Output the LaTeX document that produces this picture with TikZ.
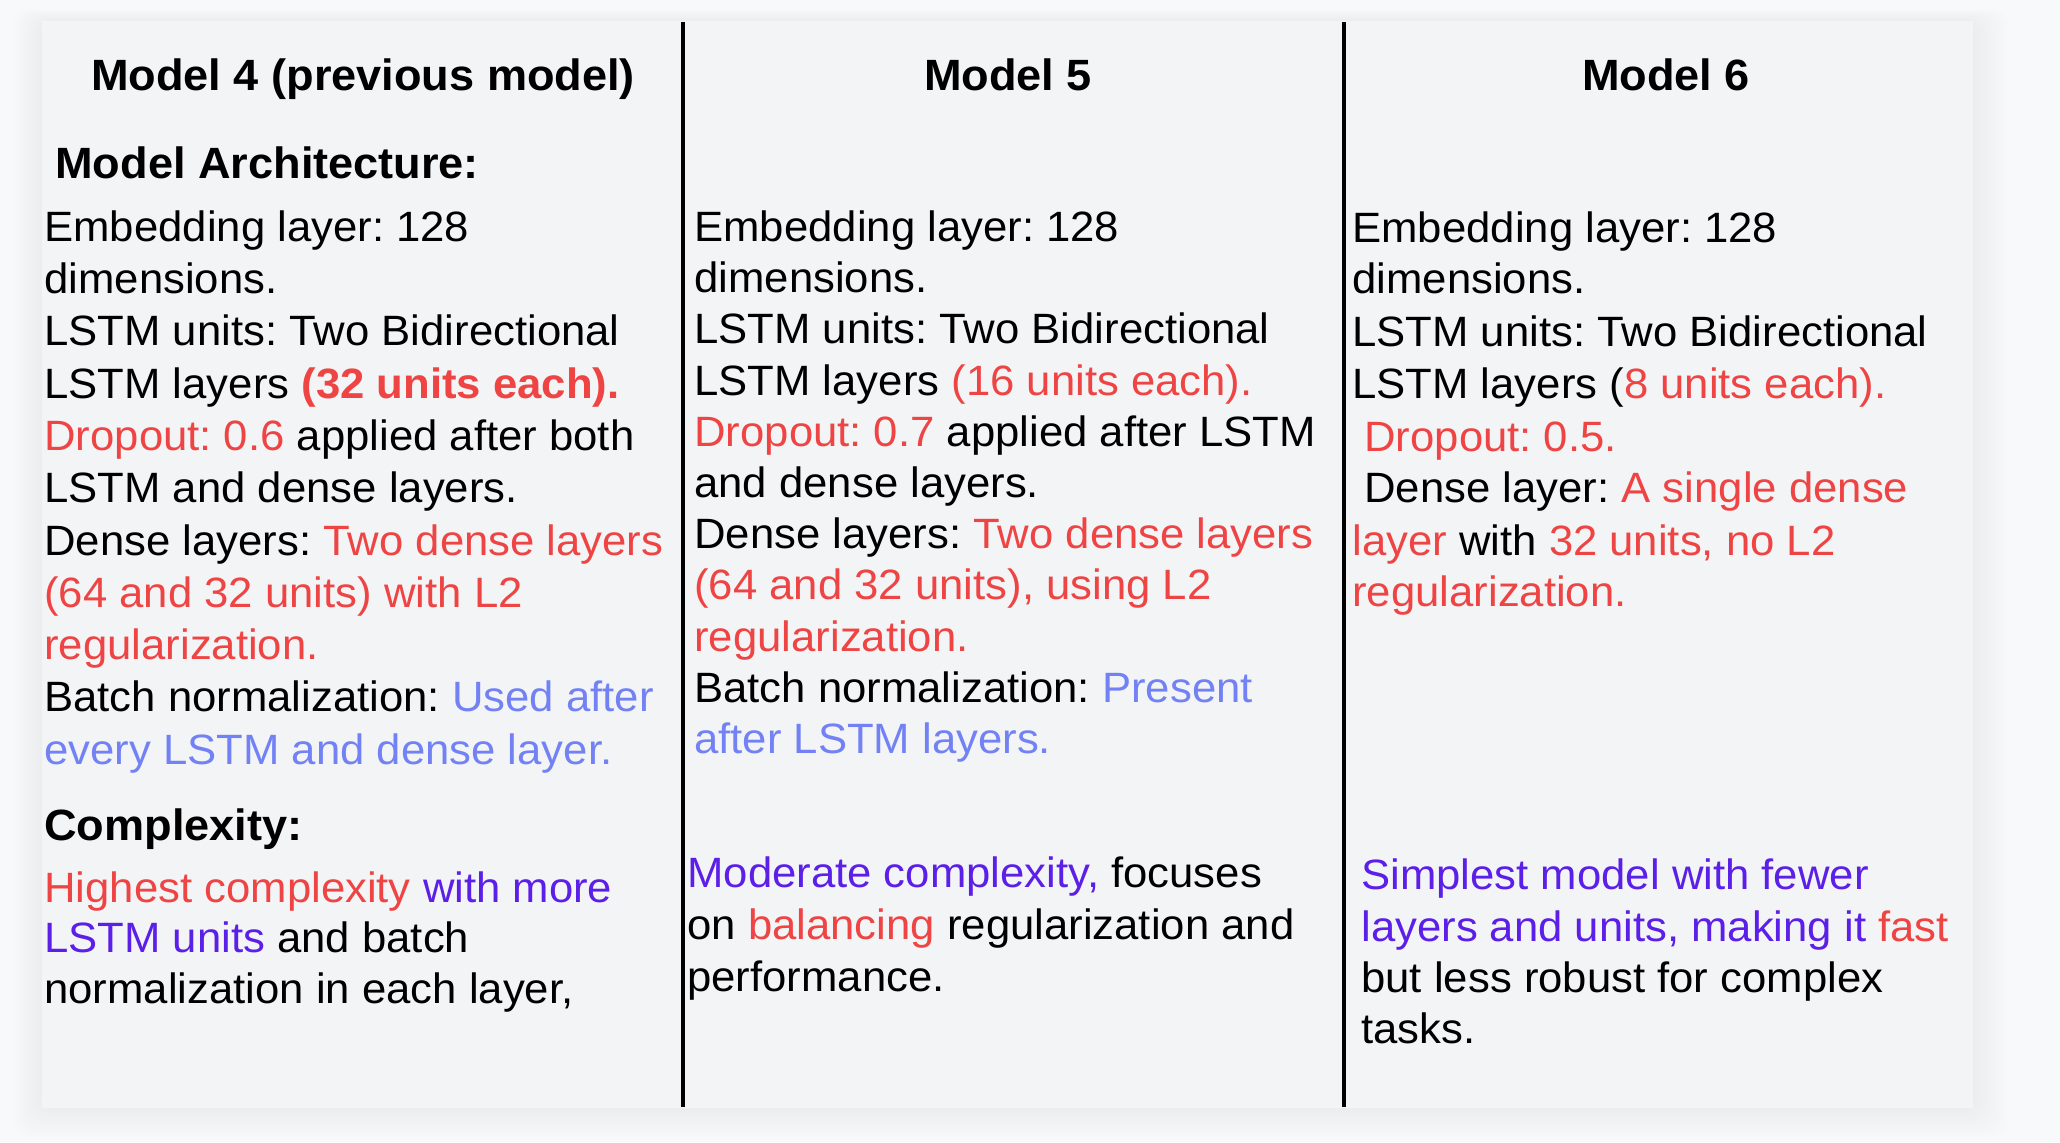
\documentclass[tikz,border=0pt]{standalone}
\usepackage{fontspec}
\setmainfont{Liberation Sans}[FakeStretch=1.03]
\definecolor{myred}{HTML}{EF4444}
\definecolor{myblue}{HTML}{7282F5}
\definecolor{mypurple}{HTML}{5B1FE8}
\definecolor{panelbg}{HTML}{F3F4F6}
\definecolor{outerbg}{HTML}{F8F9FA}
\frenchspacing
\begin{document}
\begin{tikzpicture}[x=0.5pt,y=-0.5pt,
  body/.style={anchor=base west, inner sep=0pt, font=\fontsize{21.2}{26}\selectfont},
  head/.style={anchor=base west, inner sep=0pt, font=\fontsize{21.9}{27}\selectfont\bfseries},
  ttl/.style={anchor=base, inner sep=0pt, font=\fontsize{21.9}{27}\selectfont\bfseries},
  divider/.style={line width=1.9pt, black}]
\fill[outerbg] (0,0) rectangle (2060,1142);
\useasboundingbox (0,0) rectangle (2060,1142);
% soft shadow
\foreach \i in {1,...,12}{
  \fill[black,opacity=0.004,rounded corners=8pt] (42-2.5*\i,21-1*\i) rectangle (1973+3*\i,1108+2.5*\i);
}
\fill[panelbg] (42,21) rectangle (1973,1108);
% dividers
\coordinate (d1t) at (683,22); \coordinate (d1b) at (683,1107);
\coordinate (d2t) at (1344,22); \coordinate (d2b) at (1344,1107);
\draw[divider] (d1t) -- (d1b);
\draw[divider] (d2t) -- (d2b);
% titles
\node[ttl] (t4) at (363,90) {Model 4 (previous model)};
\node[ttl] (t5) at (1008,90) {Model 5};
\node[ttl] (t6) at (1666,90) {Model 6};
% left column
\node[head] (archL) at (55,178) {Model Architecture:};
\node[body] (L1) at (44,241) {Embedding layer: 128};
\node[body] (L2) at (44,293) {dimensions.};
\node[body] (L3) at (44,345) {LSTM units: Two Bidirectional};
\node[body] (L4) at (44,398) {LSTM layers \textcolor{myred}{\bfseries(32 units each).}};
\node[body] (L5) at (44,450) {\textcolor{myred}{Dropout: 0.6} applied after both};
\node[body] (L6) at (44,502) {LSTM and dense layers.};
\node[body] (L7) at (44,555) {Dense layers: \textcolor{myred}{Two dense layers}};
\node[body,text=myred] (L8) at (44,607) {(64 and 32 units) with L2};
\node[body,text=myred] (L9) at (44,659) {regularization.};
\node[body] (L10) at (44,711) {Batch normalization: \textcolor{myblue}{Used after}};
\node[body,text=myblue] (L11) at (44,764) {every LSTM and dense layer.};
\node[head] (cxL) at (44,840) {Complexity:};
\node[body] (LC1) at (44,902) {\textcolor{myred}{Highest complexity} \textcolor{mypurple}{with more}};
\node[body] (LC2) at (44,952) {\textcolor{mypurple}{LSTM units} and batch};
\node[body] (LC3) at (44,1003) {normalization in each layer,};
% middle column
\node[body] (M1) at (694,241) {Embedding layer: 128};
\node[body] (M2) at (694,292) {dimensions.};
\node[body] (M3) at (694,343) {LSTM units: Two Bidirectional};
\node[body] (M4) at (694,395) {LSTM layers \textcolor{myred}{(16 units each).}};
\node[body] (M5) at (694,446) {\textcolor{myred}{Dropout: 0.7} applied after LSTM};
\node[body] (M6) at (694,497) {and dense layers.};
\node[body] (M7) at (694,548) {Dense layers: \textcolor{myred}{Two dense layers}};
\node[body,text=myred] (M8) at (694,599) {(64 and 32 units), using L2};
\node[body,text=myred] (M9) at (694,651) {regularization.};
\node[body] (M10) at (694,702) {Batch normalization: \textcolor{myblue}{Present}};
\node[body,text=myblue] (M11) at (694,753) {after LSTM layers.};
\node[body] (MC1) at (687,887) {\textcolor{mypurple}{Moderate complexity,} focuses};
\node[body] (MC2) at (687,939) {on \textcolor{myred}{balancing} regularization and};
\node[body] (MC3) at (687,991) {performance.};
% right column
\node[body] (R1) at (1352,242) {Embedding layer: 128};
\node[body] (R2) at (1352,293) {dimensions.};
\node[body] (R3) at (1352,346) {LSTM units: Two Bidirectional};
\node[body] (R4) at (1352,398) {LSTM layers (\textcolor{myred}{8 units each).}};
\node[body,text=myred] (R5) at (1364,451) {Dropout: 0.5.};
\node[body] (R6) at (1364,502) {Dense layer: \textcolor{myred}{A single dense}};
\node[body] (R7) at (1352,555) {\textcolor{myred}{layer} with \textcolor{myred}{32 units, no L2}};
\node[body,text=myred] (R8) at (1352,606) {regularization.};
\node[body,text=mypurple] (RC1) at (1361,889) {Simplest model with fewer};
\node[body] (RC2) at (1361,941) {\textcolor{mypurple}{layers and units, making it} \textcolor{myred}{fast}};
\node[body] (RC3) at (1361,992) {but less robust for complex};
\node[body] (RC4) at (1361,1043) {tasks.};
\end{tikzpicture}
\end{document}
